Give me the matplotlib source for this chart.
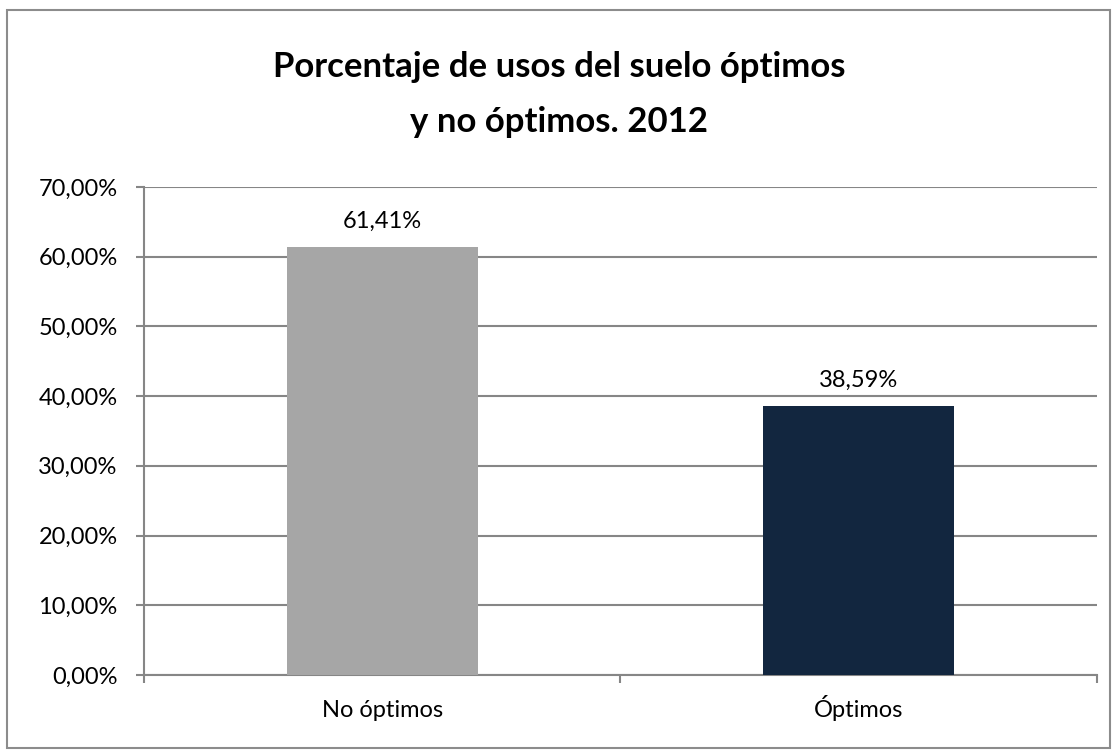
import matplotlib.pyplot as plt
import matplotlib.transforms as mtransforms
from matplotlib.patches import Rectangle

# Datos
categorias = ['No óptimos', 'Óptimos']
porcentajes = [61.41, 38.59]
colores = ['#A6A6A6', '#12263F']
ticks_y = [0, 10, 20, 30, 40, 50, 60, 70]
titulo = ['Porcentaje de usos del suelo óptimos', 'y no óptimos. 2012']

plt.rcParams['font.family'] = ['Lato', 'DejaVu Sans']

fig = plt.figure(figsize=(11.18, 7.54), dpi=100)
ax = fig.add_axes([0.1288, 0.1048, 0.8524, 0.6472])

# Marco exterior del gráfico
fig.patches.append(Rectangle((0.0063, 0.008), 0.9866, 0.979, transform=fig.transFigure,
                             fill=False, edgecolor='#8C8C8C', linewidth=1.5))

x = range(len(categorias))
ax.bar(x, porcentajes, width=0.4, color=colores, zorder=3)

# Etiquetas de valor encima de cada barra
for xi, v in zip(x, porcentajes):
    ax.annotate(f'{v:.2f}%'.replace('.', ','), (xi, v), xytext=(0, 14),
                textcoords='offset points', ha='center', va='baseline', fontsize=17)

ax.set_xlim(-0.5, len(categorias) - 0.5)
ax.set_ylim(0, 70)
ax.set_yticks(ticks_y)
ax.set_yticklabels([f'{t:.2f}%'.replace('.', ',') for t in ticks_y], fontsize=17)
ax.yaxis.grid(True, color='#868686', linewidth=1.5, zorder=0)

# Ticks del eje X en los límites de categoría (estilo Excel)
ax.set_xticks([i - 0.5 for i in range(len(categorias) + 1)])
ax.set_xticklabels([])
ax.tick_params(axis='x', length=6, width=1.5, color='#868686')
ax.tick_params(axis='y', length=6, width=1.5, color='#868686', pad=13)

# Nombres de categoría con la misma línea base
desplaz = mtransforms.offset_copy(ax.get_xaxis_transform(), fig=fig, y=-42, units='dots')
for xi, cat in zip(x, categorias):
    ax.text(xi, 0, cat, transform=desplaz, ha='center', va='baseline', fontsize=17)

for lado in ['top', 'right']:
    ax.spines[lado].set_visible(False)
for lado in ['left', 'bottom']:
    ax.spines[lado].set_color('#868686')
    ax.spines[lado].set_linewidth(1.5)

fig.text(0.5, 0.8979, titulo[0], ha='center', va='baseline', fontsize=25, fontweight='bold')
fig.text(0.5, 0.8249, titulo[1], ha='center', va='baseline', fontsize=25, fontweight='bold')

plt.savefig('out.png', dpi=100)
